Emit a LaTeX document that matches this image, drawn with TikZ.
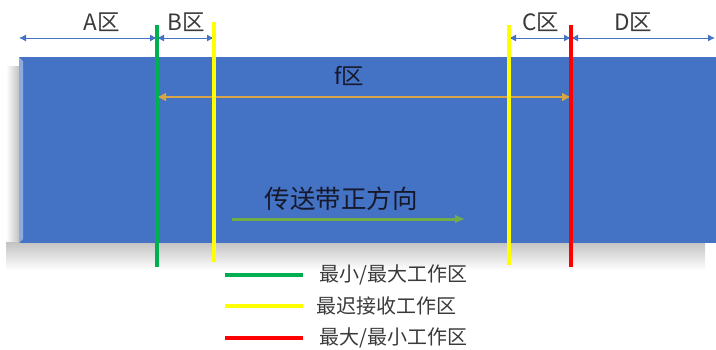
\documentclass[tikz,border=0pt]{standalone}
\usepackage{fontspec}
\setmainfont{Noto Sans CJK SC}
\usepackage{xcolor}
\usepackage{tikz}
\usetikzlibrary{arrows.meta,positioning}
\definecolor{beltc}{HTML}{4472C4}
\definecolor{bevelc}{HTML}{8FAADC}
\definecolor{shadc}{HTML}{C2C2C2}
\definecolor{grnc}{HTML}{00B050}
\definecolor{yelc}{HTML}{FFFF00}
\definecolor{redc}{HTML}{FF0000}
\definecolor{dirc}{HTML}{70AD47}
\definecolor{fzc}{HTML}{D8A445}
\definecolor{txtc}{HTML}{3A3A3A}
\definecolor{darkc}{HTML}{16192C}
\tikzset{
  zar/.style={{Latex[length=7pt,width=7pt]}-{Latex[length=7pt,width=7pt]},line width=1pt,beltc},
  far/.style={{Latex[length=9pt,width=9pt]}-{Latex[length=9pt,width=9pt]},line width=1.6pt,fzc},
  dar/.style={-{Latex[length=10pt,width=9pt]},line width=3pt,dirc},
  vln/.style={line width=3.2pt},
  lgln/.style={line width=3.6pt},
  zlbl/.style={font=\fontsize{22.5}{22.5}\selectfont,text=txtc,inner sep=0pt},
  lglbl/.style={font=\fontsize{20}{20}\selectfont,text=txtc,inner sep=0pt,anchor=west}
}
\begin{document}
\begin{tikzpicture}[x=1pt,y=-1pt]
\useasboundingbox (0,0) rectangle (716,349);
% shadow and belt
\shade[left color=white,right color=shadc] (6,66) rectangle (19,243);
\fill[shadc] (19,66) rectangle (705,243);
\shade[top color=shadc,bottom color=white] (6,242) rectangle (705,270);
\fill[beltc] (19,57) rectangle (716,243);
\fill[bevelc] (19,57) -- (23,61) -- (23,239) -- (19,243) -- cycle;
% line ends
\coordinate (gT) at (157,25); \coordinate (gB) at (157,267);
\coordinate (y1T) at (214,22); \coordinate (y1B) at (214,262);
\coordinate (y2T) at (509,25); \coordinate (y2B) at (509,265);
\coordinate (rT) at (571,25); \coordinate (rB) at (571,267);
\coordinate (aL) at (19,38); \coordinate (dR) at (715,38);
\coordinate (fY) at (0,97);
\coordinate (dirL) at (232,219); \coordinate (dirR) at (465,219);
% zone labels
\node[zlbl] (za) at (102,22) {A区};
\node[zlbl] (zb) at (186,22) {B区};
\node[zlbl] (zc) at (541,22) {C区};
\node[zlbl] (zd) at (633,22) {D区};
\node[zlbl,text=darkc] (zf) at (349,76) {f区};
\node[font=\fontsize{25.5}{25.5}\selectfont,text=darkc,inner sep=0pt] (dirt) at (341,199) {传送带正方向};
% arrows
\draw[zar] (aL) -- (gT |- aL);
\draw[zar] (gT |- aL) -- (y1T |- aL);
\draw[zar] (y2T |- aL) -- (rT |- aL);
\draw[zar] (rT |- aL) -- (dR);
\draw[far] (gT |- fY) -- (rT |- fY);
\draw[dar] (dirL) -- (dirR);
% zone borders
\draw[vln,grnc] (gT) -- (gB);
\draw[vln,yelc] (y1T) -- (y1B);
\draw[vln,yelc] (y2T) -- (y2B);
\draw[vln,redc] (rT) -- (rB);
% legend
\node[lglbl] (lg1) at (319,275) {最小/最大工作区};
\node[lglbl] (lg2) at (316,306) {最迟接收工作区};
\node[lglbl] (lg3) at (319,338) {最大/最小工作区};
\draw[lgln,grnc] (225,275) -- (303,275);
\draw[lgln,yelc] (225,306) -- (303,306);
\draw[lgln,redc] (225,338) -- (303,338);
\end{tikzpicture}
\end{document}
